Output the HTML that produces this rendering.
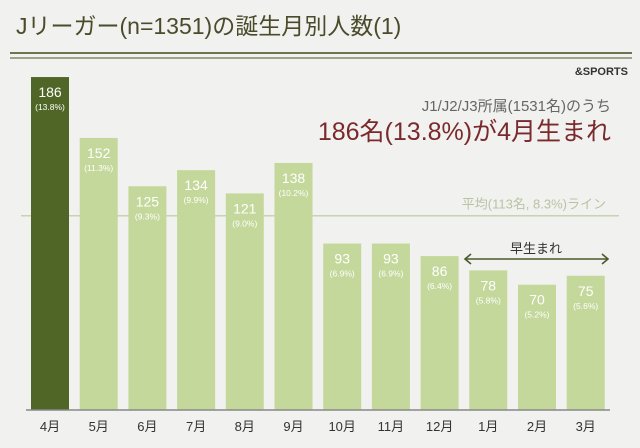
<!DOCTYPE html>
<html><head><meta charset="utf-8"><style>
body{margin:0;background:#f1f1ef;width:640px;height:443px;overflow:hidden;font-family:"Liberation Sans","Noto Sans CJK JP",sans-serif}
</style></head><body>
<svg width="640" height="443" id="chart" xmlns="http://www.w3.org/2000/svg" font-family="Liberation Sans, Noto Sans CJK JP, sans-serif">
<text x="16" y="34" font-size="23" fill="#4b4b2b">Jリーガー(n=1351)の誕生月別人数(1)</text>
<line x1="10" y1="53" x2="632" y2="53" stroke="#6f7350" stroke-width="2"/>
<line x1="10" y1="58" x2="632" y2="58" stroke="#6f7350" stroke-width="1.2"/>
<text x="628" y="75" font-size="11" font-weight="bold" fill="#333" text-anchor="end">&amp;SPORTS</text>
<text x="611" y="111" font-size="15" fill="#666" text-anchor="end">J1/J2/J3所属(1531名)のうち</text>
<text x="611" y="140" font-size="25" fill="#7a2a2c" text-anchor="end">186名(13.8%)が4月生まれ</text>
<g id="bars"></g>
<text x="536" y="253" font-size="13" fill="#333" text-anchor="middle">早生まれ</text>
<g stroke="#4b5a2c" stroke-width="1.6" fill="none">
<line x1="465" y1="259" x2="608" y2="259"/><polyline points="471,254 465,259 471,264"/><polyline points="602,254 608,259 602,264"/>
</g>
</svg>
<script>
const months=["4月","5月","6月","7月","8月","9月","10月","11月","12月","1月","2月","3月"];
const counts=[186,152,125,134,121,138,93,93,86,78,70,75];
const pcts=["13.8%","11.3%","9.3%","9.9%","9.0%","10.2%","6.9%","6.9%","6.4%","5.8%","5.2%","5.6%"];
const average=113;
const avgLabel="平均(113名, 8.3%)ライン";
const NS="http://www.w3.org/2000/svg";
const g=document.getElementById('bars');
const base=410,scale=1.79,x0=31,pitch=48.7,bw=38;
const y=v=>base-v*scale;
const x=i=>x0+i*pitch;
function mk(t,a){const e=document.createElementNS(NS,t);for(const k in a)e.setAttribute(k,a[k]);g.appendChild(e);return e;}
const al=mk('line',{x1:21,y1:y(average)+8,x2:619,y2:y(average)+8,stroke:'#c8d3b0','stroke-width':1.5});


const at=mk('text',{x:606,y:y(average)+1,'font-size':13,fill:'#b9c3a4','text-anchor':'end'});at.textContent=avgLabel;


counts.forEach((v,i)=>{
 const r=mk('rect',{x:x(i),y:y(v),width:bw,height:v*scale,fill:i===0?'#4f6626':'#c4d89b'});
 
 
 const t=mk('text',{x:x(i)+bw/2,y:y(v)+20,'font-size':14,fill:'#fff','text-anchor':'middle'});t.textContent=v;
 
 
 const p=mk('text',{x:x(i)+bw/2,y:y(v)+33,'font-size':8.5,fill:'#fff','text-anchor':'middle'});p.textContent='('+pcts[i]+')';
 
 
 const m=mk('text',{x:x(i)+bw/2,y:431,'font-size':13,fill:'#333','text-anchor':'middle'});m.textContent=months[i];
 
 
});
const ax=mk('line',{x1:26,y1:base,x2:610,y2:base,stroke:'#888','stroke-width':1.5});


</script>
</body></html>
